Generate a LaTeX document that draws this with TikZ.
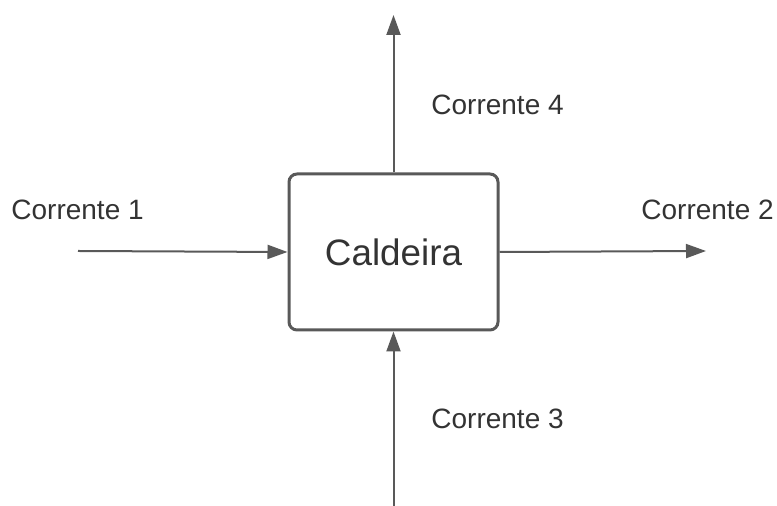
\documentclass[tikz,border=0pt]{standalone}
\usepackage{fontspec}
\setmainfont{Liberation Sans}
\usetikzlibrary{arrows.meta,positioning}
\definecolor{linha}{HTML}{595959}
\definecolor{texto}{HTML}{333333}

\begin{document}
\begin{tikzpicture}[x=0.5pt,y=-0.5pt,
    fluxo/.style={draw=linha,line width=1pt,-{Triangle[length=10pt,width=7pt]}},
    rotulo/.style={text=texto,font=\fontsize{14}{16}\selectfont,inner sep=0pt}]
    \useasboundingbox (0,0) rectangle (777,506);
    % equipamento
    \node[draw=linha,line width=1.5pt,rounded corners=4pt,minimum width=104.5pt,minimum height=78pt,
          text=texto,font=\fontsize{18.4}{20}\selectfont] (caldeira) at (393.5,252) {Caldeira};
    % extremidades livres das correntes
    \coordinate (c1) at (78,251);
    \coordinate (c2) at (706,251);
    \coordinate (c3) at (393.5,506);
    \coordinate (c4) at (393.5,15);
    \draw[fluxo] (c1) -- (caldeira.west);
    \draw[fluxo] (caldeira.east) -- (c2);
    \draw[fluxo] (c3) -- (caldeira.south);
    \draw[fluxo] (caldeira.north) -- (c4);
    % rotulos
    \node[rotulo,anchor=base west] (r1) at (11,220) {Corrente 1};
    \node[rotulo,anchor=base west] (r2) at (641,220) {Corrente 2};
    \node[rotulo,anchor=base west] (r3) at (431,429) {Corrente 3};
    \node[rotulo,anchor=base west] (r4) at (431,115) {Corrente 4};
\end{tikzpicture}
\end{document}
